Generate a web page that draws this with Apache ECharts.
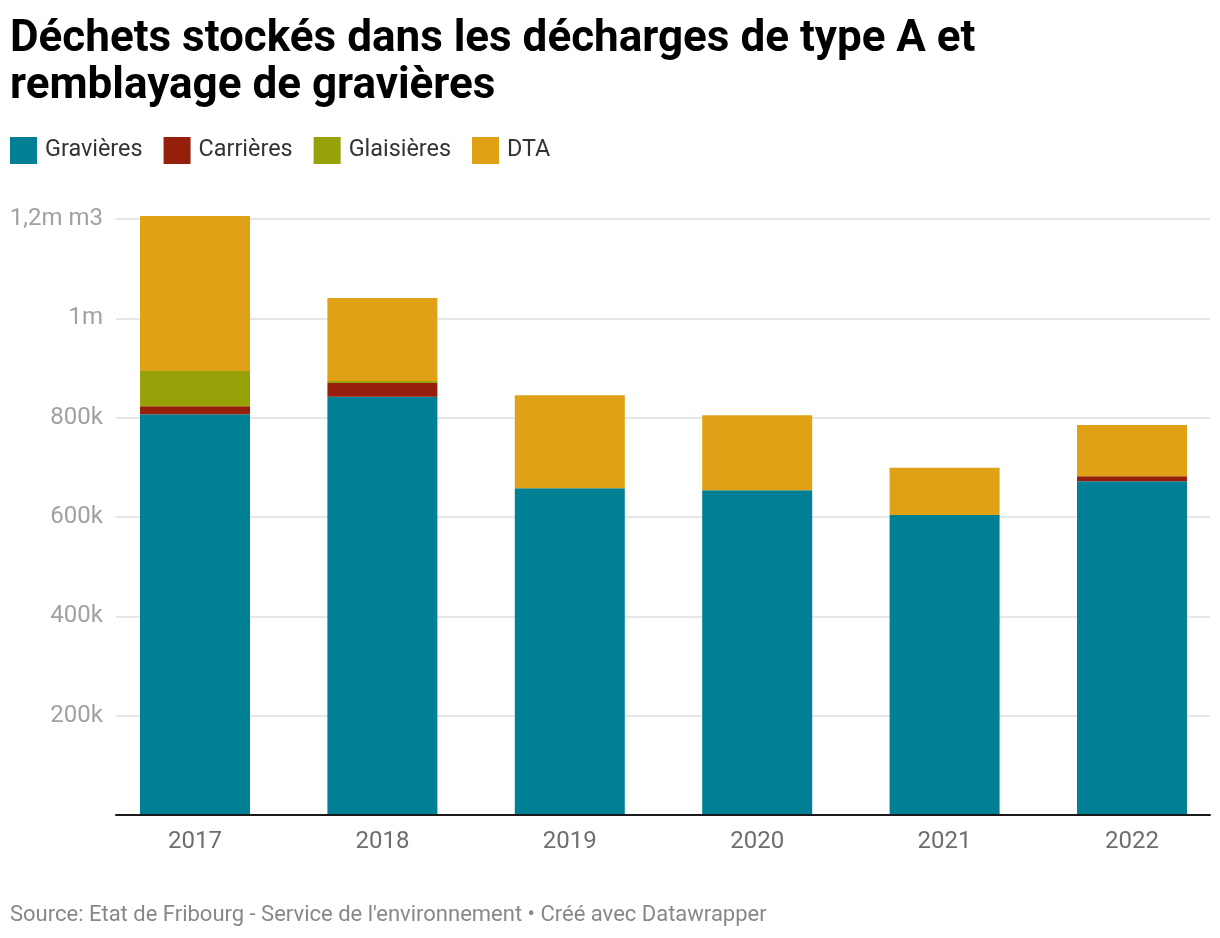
<!DOCTYPE html>
<html>
<head>
<meta charset="utf-8">
<script src="https://cdn.jsdelivr.net/npm/echarts@6/dist/echarts.min.js"></script>
<style>
html,body{margin:0;padding:0;background:#fff;}
#chart{width:1220px;height:938px;}
</style>
</head>
<body>
<div id="chart"></div>
<script>
const categories = ["2017", "2018", "2019", "2020", "2021", "2022"];
const gravieres = [807000, 842000, 658000, 654000, 604000, 672000];
const carrieres = [16000, 28000, 0, 0, 0, 10000];
const glaisieres = [71000, 4000, 0, 0, 0, 0];
const dta = [312000, 167000, 187000, 151000, 95000, 103000];
const yTickValues = [0, 200000, 400000, 600000, 800000, 1000000, 1200000];
const yTickLabels = ["", "200k", "400k", "600k", "800k", "1m", "1,2m m3"];
const seriesNames = ["Gravières", "Carrières", "Glaisières", "DTA"];
const colors = ["#007f95", "#951f0a", "#97a208", "#e0a117"];

const chart = echarts.init(document.getElementById('chart'), null, {renderer: 'canvas'});
const font = 'Roboto, "Noto Sans", sans-serif';

function yLabel(v) {
  const i = yTickValues.indexOf(v);
  return i >= 0 ? yTickLabels[i] : '';
}

const values = [gravieres, carrieres, glaisieres, dta];

chart.setOption({
  backgroundColor: '#ffffff',
  animation: false,
  textStyle: {fontFamily: font},
  title: {
    text: 'Déchets stockés dans les décharges de type A et\nremblayage de gravières',
    left: 5, top: 11,
    textStyle: {fontFamily: font, fontSize: 44, fontWeight: 'bold', color: '#000', lineHeight: 47}
  },
  legend: {
    data: seriesNames,
    left: 5, top: 132,
    icon: 'rect',
    itemWidth: 27, itemHeight: 27,
    itemGap: 21,
    textStyle: {fontFamily: font, fontSize: 23.4, color: '#333', padding: [0, 0, 0, 3]}
  },
  graphic: [{
    type: 'text',
    left: 10, top: 904,
    style: {
      text: "Source: Etat de Fribourg - Service de l'environnement • Créé avec Datawrapper",
      font: '22px Roboto, "Noto Sans", sans-serif',
      fill: '#888888'
    }
  }],
  grid: [
    {left: 116, right: 10, top: 219, bottom: 123},
    {left: 195, right: 88, top: 219, bottom: 123}
  ],
  xAxis: [
    {
      type: 'category', gridIndex: 0, data: categories, z: 10,
      axisLine: {show: true, lineStyle: {color: '#1a1a1a', width: 2}},
      axisTick: {show: false}, axisLabel: {show: false}
    },
    {
      type: 'category', gridIndex: 1, data: categories, boundaryGap: false,
      axisLine: {show: false}, axisTick: {show: false},
      axisLabel: {fontFamily: font, fontSize: 24, color: '#6e6e6e', margin: 15},
      splitLine: {show: false}
    }
  ],
  yAxis: [
    {
      type: 'value', gridIndex: 0, min: 0, max: 1200000, interval: 200000,
      axisLine: {show: false}, axisTick: {show: false},
      axisLabel: {fontFamily: font, fontSize: 24, color: '#a1a1a1', margin: 13, formatter: yLabel},
      splitLine: {show: true, lineStyle: {color: '#e6e6e6', width: 2}}
    },
    {
      type: 'value', gridIndex: 1, min: 0, max: 1200000, interval: 200000,
      show: false, splitLine: {show: false}
    }
  ],
  series: seriesNames.map((name, i) => ({
    name: name,
    type: 'bar',
    stack: 'total',
    xAxisIndex: 1, yAxisIndex: 1,
    barWidth: 110,
    clip: false,
    itemStyle: {color: colors[i]},
    data: values[i]
  }))
});
</script>
</body>
</html>
